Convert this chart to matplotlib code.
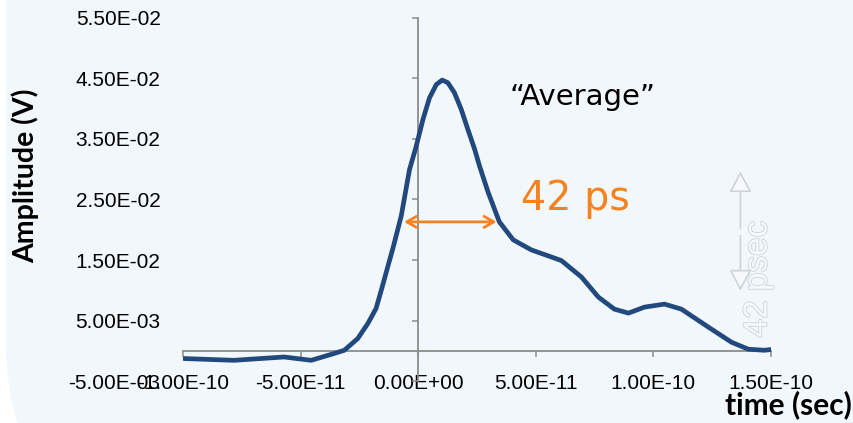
import matplotlib.pyplot as plt
import matplotlib.patheffects as pe
from matplotlib.patches import FancyBboxPatch
from matplotlib.transforms import IdentityTransform
from matplotlib.ticker import FuncFormatter

plt.rcParams['font.family'] = ['Liberation Sans', 'DejaVu Sans']

# pulse (time in 1e-11 s, amplitude in 1e-3 V)
time_e11 = [-9.96, -7.83, -5.70, -4.55, -3.70, -3.14, -2.57, -2.14, -1.79, -1.57,
            -1.06, -0.72, -0.37, -0.085, 0.2, 0.48, 0.77, 1.02, 1.26, 1.54, 1.83,
            2.11, 2.40, 2.61, 2.98, 3.45, 4.04, 4.81, 5.66, 6.09, 6.94, 7.66, 8.34,
            8.94, 9.62, 10.47, 11.19, 12.34, 13.32, 14.04, 14.72, 15.11]
amp_e3 = [-1.29, -1.58, -1.03, -1.58, -0.6, 0.08, 2.02, 4.51, 7.0, 10.0,
          17.16, 22.3, 29.93, 33.8, 38.2, 41.8, 44.0, 44.74, 44.31, 42.65, 39.9,
          36.6, 33.3, 30.5, 26.12, 21.31, 18.33, 16.67, 15.5, 14.9, 12.19, 8.87, 6.88,
          6.22, 7.21, 7.71, 6.88, 3.9, 1.41, 0.25, 0.08, 0.25]
t = [v * 1e-11 for v in time_e11]
amp = [v * 1e-3 for v in amp_e3]

xticks = [-1e-10, -5e-11, 0, 5e-11, 1e-10, 1.5e-10]
yticks = [-0.005, 0.005, 0.015, 0.025, 0.035, 0.045, 0.055]

# FWHM marker
fwhm_left, fwhm_right, fwhm_level = -0.72e-11, 3.45e-11, 0.0213

fig = plt.figure(figsize=(8.54, 4.23), dpi=100, facecolor='white')

# light blue panel with rounded lower-left corner
panel = FancyBboxPatch((6, -108), 1200, 1100, boxstyle='round,pad=0,rounding_size=190',
                       transform=IdentityTransform(), facecolor='#f2f7fc', edgecolor='none',
                       zorder=-5)
fig.add_artist(panel)

ax = fig.add_axes([183 / 854, 42 / 423, 588 / 854, 363 / 423])
ax.set_facecolor('none')

ax.plot(t, amp, color='#22497e', lw=3.4, solid_joinstyle='round', solid_capstyle='round', zorder=3)

ax.set_xlim(-1e-10, 1.5e-10)
ax.set_ylim(-0.005, 0.055)
ax.set_xticks(xticks)
ax.set_yticks(yticks)
ax.xaxis.set_major_formatter(FuncFormatter(lambda v, p: '{:.2E}'.format(v)))
ax.yaxis.set_major_formatter(FuncFormatter(lambda v, p: '{:.2E}'.format(v)))

for s in ['top', 'right']:
    ax.spines[s].set_visible(False)
for s in ['left', 'bottom']:
    ax.spines[s].set_position(('data', 0))
    ax.spines[s].set_color('#8c8c8c')
    ax.spines[s].set_linewidth(1.3)

ax.tick_params(axis='both', colors='#8c8c8c', labelcolor='black', length=4.5, width=1.1,
               labelsize=15)
ax.tick_params(axis='y', pad=181)
ax.tick_params(axis='x', pad=12)

# axis titles
fig.text(25 / 854, 1 - 176 / 423, 'Amplitude (V)', rotation=90, ha='center', va='center',
         fontsize=20.5, fontweight='bold', family='Lato')
fig.text(852 / 854, 1 - 405 / 423, 'time (sec)', ha='right', va='center',
         fontsize=21.5, fontweight='bold', family='Lato')

# annotations
ax.annotate('', xy=(fwhm_left, fwhm_level), xytext=(fwhm_right, fwhm_level),
            arrowprops=dict(arrowstyle='<->,head_length=0.7,head_width=0.4',
                            color='#f5821f', lw=2), zorder=4)
ax.text(4.38e-11, 0.0233, '42 ps', color='#f5821f', fontsize=28.5, family='DejaVu Sans',
        va='baseline', ha='left')
ax.text(3.87e-11, 0.0407, '\u201cAverage\u201d', color='black', fontsize=21,
        family='DejaVu Sans', va='baseline', ha='left')

# faint ghost label in the background
ghost = [pe.Stroke(linewidth=1.2, foreground='#cfd2d6'), pe.Normal()]
ax.text(14.45e-11, 0.0022, '42 psec', rotation=90, fontsize=24, color='#f6f9fc',
        ha='center', va='bottom', path_effects=ghost, zorder=1)
ax.annotate('', xy=(13.7e-11, 0.0301), xytext=(13.7e-11, 0.0197),
            arrowprops=dict(arrowstyle='-|>,head_length=1.3,head_width=0.7',
                            facecolor='#f6f9fc', edgecolor='#cfd2d6', lw=1.2), zorder=1)
ax.annotate('', xy=(13.7e-11, 0.0095), xytext=(13.7e-11, 0.0195),
            arrowprops=dict(arrowstyle='-|>,head_length=1.3,head_width=0.7',
                            facecolor='#f6f9fc', edgecolor='#cfd2d6', lw=1.2), zorder=1)

fig.savefig('out.png', dpi=100)
